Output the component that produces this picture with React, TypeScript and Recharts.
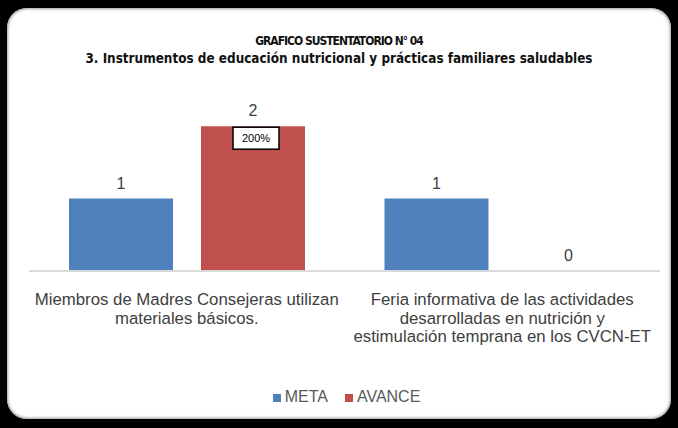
import { BarChart, Bar, XAxis, YAxis, Legend, LabelList } from 'recharts';

const categories = [
  'Miembros de Madres Consejeras utilizan materiales básicos.',
  'Feria informativa de las actividades desarrolladas en nutrición y estimulación temprana en los CVCN-ET'
];
const categoryLines = [
  ['Miembros de Madres Consejeras utilizan', 'materiales básicos.'],
  ['Feria informativa de las actividades', 'desarrolladas en nutrición  y', 'estimulación temprana en los CVCN-ET']
];
const meta = [1, 1];
const avance = [2, 0];
const avancePct = ['200%', ''];

const TITLE_FONT = '"DejaVu Sans Condensed", sans-serif';
const FONT = '"Liberation Sans", Arial, sans-serif';
const BLUE = '#4F81BD';
const RED = '#C0504D';

const chartData = categories.map((name, i) => ({
  name,
  meta: meta[i],
  avance: avance[i],
  pct: avancePct[i]
}));

function CategoryTick(props: any) {
  const { x, y, index } = props;
  const lines: string[] = categoryLines[index] || [];
  return (
    <g>
      {lines.map((line, i) => (
        <text
          key={i}
          x={x}
          y={y + 26 + i * 18.5}
          textAnchor="middle"
          fill="#404040"
          fontSize={16.8}
          fontFamily={FONT}
        >
          {line}
        </text>
      ))}
    </g>
  );
}

function ValueLabel(props: any) {
  const { x, y, width, height, value } = props;
  if (value === undefined || value === null) return null;
  // zero-valued bars get a tiny minPointSize, so anchor on the bar's bottom edge for them
  const top = value === 0 ? y + height : y;
  return (
    <text x={x + width / 2} y={top - 10} textAnchor="middle" fill="#404040" fontSize={16} fontFamily={FONT}>
      {value}
    </text>
  );
}

function PctLabel(props: any) {
  const { x, y, width, value } = props;
  if (!value) return null;
  const cx = x + width / 2 + 3;
  return (
    <g>
      <rect x={cx - 23} y={y + 1} width={46} height={22} fill="#fff" stroke="#000" strokeWidth={1.5} />
      <text x={cx} y={y + 16} textAnchor="middle" fontSize={11} fontFamily={FONT} fill="#000">
        {value}
      </text>
    </g>
  );
}

export default function App() {
  return (
    <div style={{ position: 'absolute', left: 0, top: 0, width: 678, height: 428, background: '#000', overflow: 'hidden' }}>
      <div
        style={{
          position: 'absolute',
          left: 7,
          top: 8,
          width: 664,
          height: 411,
          background: '#fff',
          borderRadius: 20,
          boxShadow: 'inset 0 0 3px 1px #999'
        }}
      />
      <div style={{ position: 'absolute', left: 0, top: 33, width: 678, textAlign: 'center', fontFamily: TITLE_FONT, fontWeight: 'bold', color: '#111', lineHeight: '17px' }}>
        <div style={{ fontSize: 12, letterSpacing: -1 }}>GRAFICO SUSTENTATORIO N° 04</div>
        <div style={{ fontSize: 13.4 }}>3. Instrumentos de educación nutricional y prácticas familiares saludables</div>
      </div>
      <div style={{ position: 'absolute', left: 0, top: 0 }}>
        <BarChart
          width={678}
          height={428}
          data={chartData}
          barSize={104}
          barGap={28}
          margin={{ top: 90, right: 18, left: 29, bottom: 20 }}
        >
          <XAxis
            dataKey="name"
            height={137}
            axisLine={{ stroke: '#D9D9D9', strokeWidth: 2 }}
            tickLine={false}
            tick={<CategoryTick />}
            interval={0}
          />
          <YAxis hide domain={[0, 2.5]} />
          <Legend
            verticalAlign="middle"
            align="center"
            iconType="square"
            iconSize={8}
            itemSorter={(item: any) => (item.value === 'META' ? 0 : 1)}
            wrapperStyle={{ top: 388, left: 16, width: 678, fontFamily: FONT, fontSize: 16 }}
            formatter={(value: string) => (
              <span style={{ color: '#595959', marginRight: 7 }}>{value}</span>
            )}
          />
          <Bar dataKey="meta" name="META" fill={BLUE} isAnimationActive={false}>
            <LabelList dataKey="meta" content={<ValueLabel />} />
          </Bar>
          <Bar dataKey="avance" name="AVANCE" fill={RED} minPointSize={0.01} isAnimationActive={false}>
            <LabelList dataKey="avance" content={<ValueLabel />} />
            <LabelList dataKey="pct" content={<PctLabel />} />
          </Bar>
        </BarChart>
      </div>
    </div>
  );
}
